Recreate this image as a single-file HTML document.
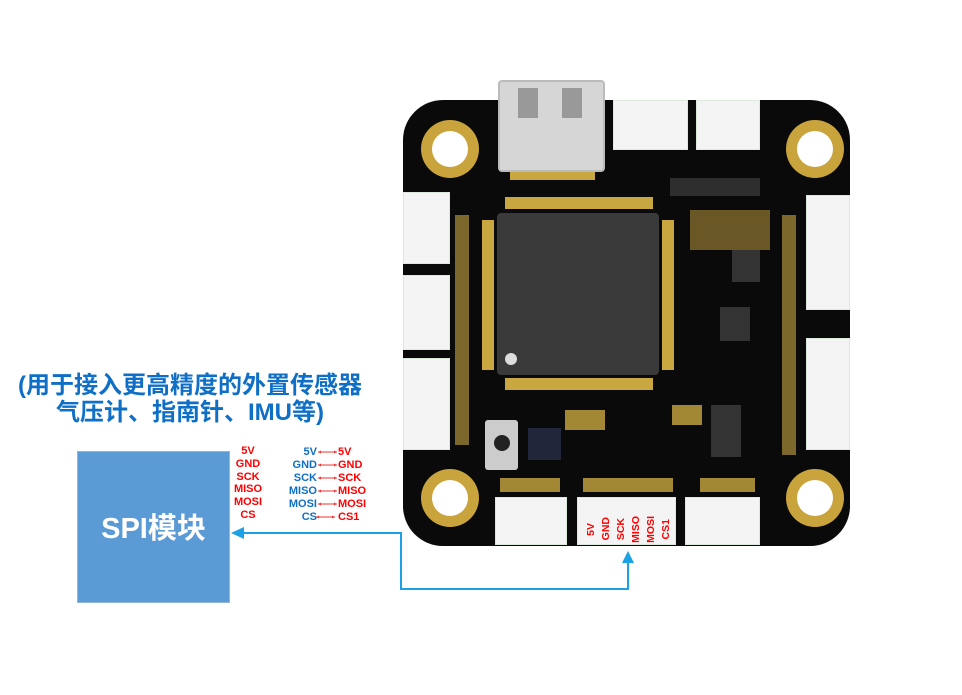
<!DOCTYPE html>
<html><head><meta charset="utf-8"><style>
*{margin:0;padding:0;box-sizing:border-box}
body{width:962px;height:695px;background:#fff;position:relative;overflow:hidden;font-family:"Liberation Sans","Noto Sans CJK SC",sans-serif}
.a{position:absolute}
.w{background:#f4f4f4;border:1px solid #dfe8df}
.hole{position:absolute;width:58px;height:58px;border-radius:50%;background:#c9a43c;}
.hole::after{content:"";position:absolute;left:11px;top:11px;width:36px;height:36px;border-radius:50%;background:#fff}
.r{color:#f00;font-weight:bold;font-size:11px;position:absolute;line-height:12px}
.b{color:#0f6fc6}
.pad{position:absolute;background:#c8a640}
</style></head><body>
<div class="a" style="left:403px;top:100px;width:447px;height:446px;background:#0a0a0a;border-radius:40px"></div>
<div class="hole" style="left:421px;top:120px"></div>
<div class="hole" style="left:786px;top:120px"></div>
<div class="hole" style="left:421px;top:469px"></div>
<div class="hole" style="left:786px;top:469px"></div>
<div class="a w" style="left:613px;top:100px;width:75px;height:50px"></div>
<div class="a w" style="left:696px;top:100px;width:64px;height:50px"></div>
<div class="a w" style="left:403px;top:192px;width:47px;height:72px"></div>
<div class="a w" style="left:403px;top:275px;width:47px;height:75px"></div>
<div class="a w" style="left:403px;top:358px;width:47px;height:92px"></div>
<div class="a w" style="left:806px;top:195px;width:44px;height:115px"></div>
<div class="a w" style="left:806px;top:338px;width:44px;height:112px"></div>
<div class="a w" style="left:495px;top:497px;width:72px;height:48px"></div>
<div class="a w" style="left:577px;top:497px;width:99px;height:48px"></div>
<div class="a w" style="left:685px;top:497px;width:75px;height:48px"></div>
<div class="a" style="left:498px;top:80px;width:107px;height:92px;background:#d6d6d6;border:2px solid #bbb;border-radius:4px"></div>
<div class="a" style="left:518px;top:88px;width:20px;height:30px;background:#999"></div>
<div class="a" style="left:562px;top:88px;width:20px;height:30px;background:#999"></div>
<div class="pad" style="left:510px;top:172px;width:85px;height:8px"></div>
<div class="pad" style="left:505px;top:197px;width:148px;height:12px"></div>
<div class="pad" style="left:505px;top:378px;width:148px;height:12px"></div>
<div class="pad" style="left:482px;top:220px;width:12px;height:150px"></div>
<div class="pad" style="left:662px;top:220px;width:12px;height:150px"></div>
<div class="a" style="left:497px;top:213px;width:162px;height:162px;background:#3a3a3a;border-radius:4px"></div>
<div class="a" style="left:505px;top:353px;width:12px;height:12px;border-radius:50%;background:#ddd"></div>
<div class="a" style="left:732px;top:250px;width:28px;height:32px;background:#333"></div>
<div class="a" style="left:720px;top:307px;width:30px;height:34px;background:#333"></div>
<div class="a" style="left:711px;top:405px;width:30px;height:52px;background:#333"></div>
<div class="a" style="left:670px;top:178px;width:90px;height:18px;background:#2e2e2e"></div>
<div class="a" style="left:485px;top:420px;width:33px;height:50px;background:#ccc;border-radius:3px"></div>
<div class="a" style="left:494px;top:435px;width:16px;height:16px;background:#222;border-radius:50%"></div>
<div class="a" style="left:528px;top:428px;width:33px;height:32px;background:#22263a"></div>
<div class="pad" style="left:565px;top:410px;width:40px;height:20px;opacity:.8"></div>
<div class="pad" style="left:672px;top:405px;width:30px;height:20px;opacity:.8"></div>
<div class="pad" style="left:690px;top:210px;width:80px;height:40px;opacity:.5"></div>
<div class="pad" style="left:583px;top:478px;width:90px;height:14px;opacity:.8"></div>
<div class="pad" style="left:500px;top:478px;width:60px;height:14px;opacity:.8"></div>
<div class="pad" style="left:700px;top:478px;width:55px;height:14px;opacity:.8"></div>
<div class="pad" style="left:455px;top:215px;width:14px;height:230px;opacity:.6"></div>
<div class="pad" style="left:782px;top:215px;width:14px;height:240px;opacity:.6"></div>
<div class="a" style="left:583px;top:512px;width:90px;height:34px;display:flex;justify-content:space-around;align-items:center">
<span class="r" style="position:static;writing-mode:vertical-rl;transform:rotate(180deg);font-size:10.5px">5V</span>
<span class="r" style="position:static;writing-mode:vertical-rl;transform:rotate(180deg);font-size:10.5px">GND</span>
<span class="r" style="position:static;writing-mode:vertical-rl;transform:rotate(180deg);font-size:10.5px">SCK</span>
<span class="r" style="position:static;writing-mode:vertical-rl;transform:rotate(180deg);font-size:10.5px">MISO</span>
<span class="r" style="position:static;writing-mode:vertical-rl;transform:rotate(180deg);font-size:10.5px">MOSI</span>
<span class="r" style="position:static;writing-mode:vertical-rl;transform:rotate(180deg);font-size:10.5px">CS1</span>
</div>
<div class="a b" style="left:0;width:380px;top:372px;text-align:center;font-weight:bold;font-size:24px;line-height:27px;white-space:nowrap">(用于接入更高精度的外置传感器<br>气压计、指南针、IMU等)</div>
<div class="a" style="left:77px;top:451px;width:153px;height:152px;background:#5b9bd5;border:1px solid #8fb6de;color:#fff;font-size:29px;font-weight:bold;display:flex;align-items:center;justify-content:center;padding-bottom:2px">SPI模块</div>
<div class="r" style="left:226px;width:44px;text-align:center;top:445px;line-height:12.8px">5V<br>GND<br>SCK<br>MISO<br>MOSI<br>CS</div>
<div class="r b" style="left:266px;width:51px;text-align:right;top:446px;line-height:12.9px">5V<br>GND<br>SCK<br>MISO<br>MOSI<br>CS</div>
<div class="r" style="left:338px;top:446px;line-height:12.9px">5V<br>GND<br>SCK<br>MISO<br>MOSI<br>CS1</div>
<svg class="a" style="left:0;top:0" width="962" height="695">
<g stroke="#e33" stroke-width="1" fill="#e33">
<line x1="318" y1="452" x2="337" y2="452"/><line x1="318" y1="465" x2="337" y2="465"/><line x1="318" y1="478" x2="337" y2="478"/><line x1="318" y1="491" x2="337" y2="491"/><line x1="318" y1="504" x2="337" y2="504"/><line x1="316" y1="517" x2="335" y2="517"/>
</g>
<g fill="#e33"><polygon points="318,452 321,450.5 321,453.5"/><polygon points="337,452 334,450.5 334,453.5"/><polygon points="318,465 321,463.5 321,466.5"/><polygon points="337,465 334,463.5 334,466.5"/><polygon points="318,478 321,476.5 321,479.5"/><polygon points="337,478 334,476.5 334,479.5"/><polygon points="318,491 321,489.5 321,492.5"/><polygon points="337,491 334,489.5 334,492.5"/><polygon points="318,504 321,502.5 321,505.5"/><polygon points="337,504 334,502.5 334,505.5"/><polygon points="316,517 319,515.5 319,518.5"/><polygon points="335,517 332,515.5 332,518.5"/></g>
<polyline points="628,560 628,589 401,589 401,533 240,533" fill="none" stroke="#1ba1e6" stroke-width="2"/>
<polygon points="231,533 244,527 244,539" fill="#1ba1e6"/>
<polygon points="628,551 622,563 634,563" fill="#1ba1e6"/>
</svg>
</body></html>
